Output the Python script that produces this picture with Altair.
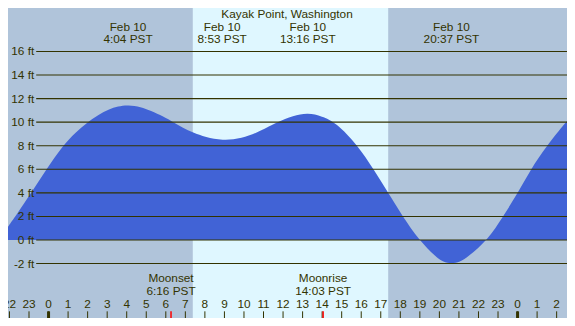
import altair as alt
import pandas as pd

# ---------------- data ----------------
TITLE = "Kayak Point, Washington"

# tide curve (hours from midnight Feb 10, feet)
tide_hours = [-2.075, -1.70, -0.88, -0.11, 0.72, 1.38, 1.99, 2.57, 3.07, 3.56, 4.067,
              4.73, 5.22, 5.89, 6.38, 6.88, 7.38, 8.04, 8.883, 9.87, 10.86, 11.69,
              12.52, 13.267, 14.0, 14.68, 15.84, 16.63, 17.38, 18.12, 18.96, 19.82,
              20.2, 20.617, 21.05, 21.45, 22.47, 23.26, 24.02, 24.68, 25.49, 26.53]
tide_feet = [1.13, 2.0, 4.0, 6.0, 8.0, 9.12, 10.0, 10.65, 11.08, 11.35, 11.46,
             11.3, 10.98, 10.47, 10.0, 9.52, 9.12, 8.72, 8.45, 8.58, 9.25, 10.0,
             10.55, 10.8, 10.5, 10.0, 8.0, 6.0, 4.0, 2.0, 0.0, -1.45,
             -1.88, -2.0, -1.88, -1.45, 0.0, 2.0, 4.0, 6.0, 8.0, 10.1]

day_start, day_end = 7.38, 17.38

extreme_hours = [4.067, 8.883, 13.267, 20.617]
extreme_dates = ["Feb 10", "Feb 10", "Feb 10", "Feb 10"]
extreme_times = ["4:04 PST", "8:53 PST", "13:16 PST", "20:37 PST"]

moon_hours = [6.267, 14.05]
moon_names = ["Moonset", "Moonrise"]
moon_times = ["6:16 PST", "14:03 PST"]

grid_feet = [-2, 0, 2, 4, 6, 8, 10, 12, 14, 16]
grid_labels = [f"{v} ft" for v in grid_feet]

hour_ticks = list(range(-2, 27))
hour_labels = [str(h % 24) for h in hour_ticks]
midnight_hours = [0, 24]

X_DOMAIN = [-2.075, 26.53]
Y_DOMAIN = [-6.62, 19.69]

# ---------------- layout ----------------
W, H = 559, 310
sx, sy = W / 575, H / 326

NIGHT = "#B0C4DA"
DAY = "#DFF7FF"
WATER = "#4163D6"
INK = "#333300"
FONT = "Liberation Sans"
FS = 11.8

xs = alt.Scale(domain=X_DOMAIN, nice=False, zero=False)
ys = alt.Scale(domain=Y_DOMAIN, nice=False, zero=False)

tide = pd.DataFrame({"h": tide_hours, "ft": tide_feet})
night_df = pd.DataFrame({"a": [X_DOMAIN[0]], "b": [X_DOMAIN[1]]})
day_df = pd.DataFrame({"a": [day_start], "b": [day_end]})
grid_df = pd.DataFrame({"ft": grid_feet, "lab": grid_labels})
ext_df = pd.DataFrame({"h": extreme_hours, "d": extreme_dates, "t": extreme_times})
moon_df = pd.DataFrame({"h": moon_hours, "n": moon_names, "t": moon_times})
hours_df = pd.DataFrame({"h": hour_ticks, "lab": hour_labels})
mid_df = pd.DataFrame({"h": midnight_hours})
title_df = pd.DataFrame({"t": [TITLE]})

X = lambda f: alt.X(f, type="quantitative", scale=xs, axis=None)
Y = lambda f: alt.Y(f, type="quantitative", scale=ys, axis=None)


def txt(df, **enc):
    return alt.Chart(df).mark_text(align="center", baseline="middle", font=FONT,
                                   fontSize=FS, color=INK).encode(**enc)


night = alt.Chart(night_df).mark_rect(color=NIGHT).encode(
    x=X("a"), x2="b", y=alt.value(0), y2=alt.value(H))
day = alt.Chart(day_df).mark_rect(color=DAY).encode(
    x=X("a"), x2="b", y=alt.value(0), y2=alt.value(H))
area = alt.Chart(tide).mark_area(color=WATER, interpolate="basis").encode(
    x=X("h"), y=Y("ft"), y2=alt.value(H))
grid = alt.Chart(grid_df).mark_rule(color=INK, strokeWidth=1.1).encode(
    y=Y("ft"), x=alt.value(29 * sx), x2=alt.value(W))
ylab = alt.Chart(grid_df).mark_text(align="right", baseline="middle", font=FONT,
                                    fontSize=FS, color=INK).encode(
    y=Y("ft"), x=alt.value(27 * sx), text="lab")

title = txt(title_df, x=alt.value(287 * sx), y=alt.value(6.3 * sy), text="t")
ext_d = txt(ext_df, x=X("h"), y=alt.value(19.5 * sy), text="d")
ext_t = txt(ext_df, x=X("h"), y=alt.value(32.7 * sy), text="t")
moon_n = txt(moon_df, x=X("h"), y=alt.value(284.3 * sy), text="n")
moon_t = txt(moon_df, x=X("h"), y=alt.value(297.7 * sy), text="t")
hlab = txt(hours_df, x=X("h"), y=alt.value(311.5 * sy), text="lab")

ticks = alt.Chart(hours_df).mark_rule(color=INK, strokeWidth=1).encode(
    x=X("h"), y=alt.value(319 * sy), y2=alt.value(H))
mid = alt.Chart(mid_df).mark_rule(color=INK, strokeWidth=3).encode(
    x=X("h"), y=alt.value(319 * sy), y2=alt.value(H))
moon_ticks = alt.Chart(moon_df).mark_rule(color="#FF0000", strokeWidth=1.5).encode(
    x=X("h"), y=alt.value(319 * sy), y2=alt.value(H))

chart = alt.layer(night, day, area, grid, ylab, title, ext_d, ext_t,
                  moon_n, moon_t, hlab, ticks, mid, moon_ticks).properties(
    width=W, height=H, padding=0, autosize=alt.AutoSizeParams(type="none")
).configure_view(stroke=None)

chart.save("out.html", embed_options={"renderer": "svg", "actions": False})
